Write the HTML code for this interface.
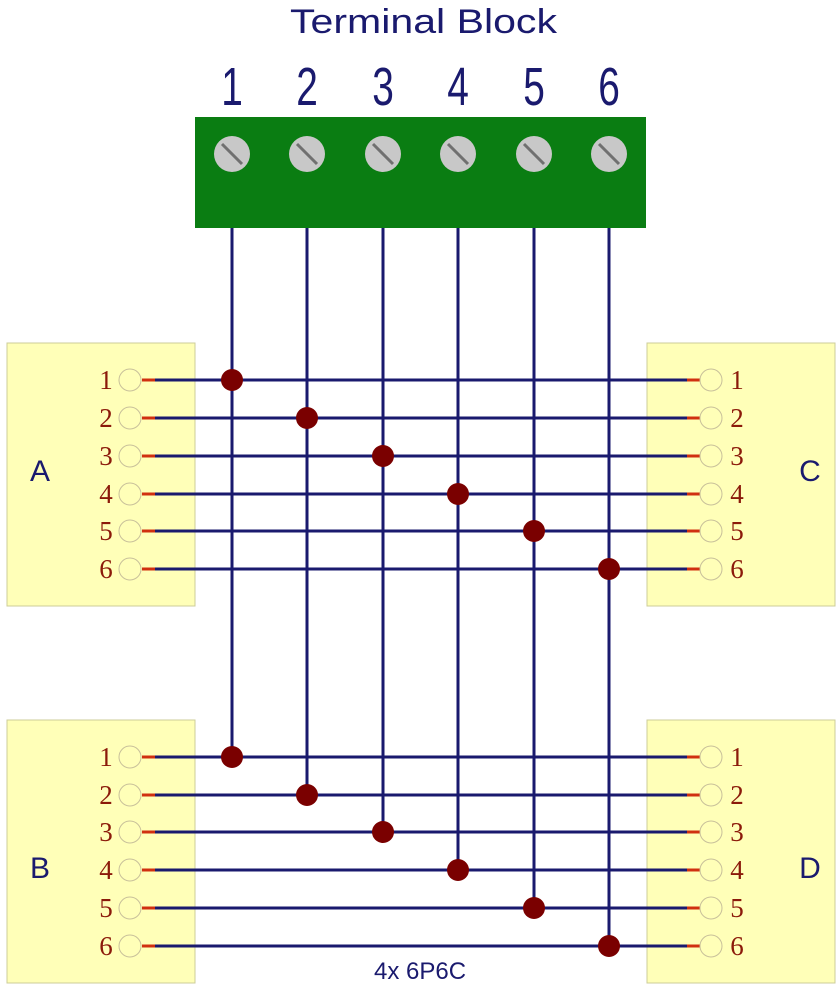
<!DOCTYPE html>
<html><head><meta charset="utf-8"><style>html,body{margin:0;padding:0;background:#fff}svg{display:block}</style></head>
<body>
<svg width="839" height="1000" viewBox="0 0 839 1000" xmlns="http://www.w3.org/2000/svg" font-family="Liberation Sans, sans-serif">
<text x="290" y="33" font-size="34" fill="#1a1a6e" textLength="267" lengthAdjust="spacingAndGlyphs">Terminal Block</text>
<g font-size="54" fill="#1a1a6e" text-anchor="middle">
<text transform="translate(232,105) scale(0.72,1)">1</text>
<text transform="translate(307,105) scale(0.72,1)">2</text>
<text transform="translate(383,105) scale(0.72,1)">3</text>
<text transform="translate(458,105) scale(0.72,1)">4</text>
<text transform="translate(534,105) scale(0.72,1)">5</text>
<text transform="translate(609,105) scale(0.72,1)">6</text>
</g>
<rect x="195" y="117" width="451" height="111" fill="#0a7d12"/>
<g fill="#c8c8c8">
<circle cx="232" cy="154" r="18"/><circle cx="307" cy="154" r="18"/><circle cx="383" cy="154" r="18"/>
<circle cx="458" cy="154" r="18"/><circle cx="534" cy="154" r="18"/><circle cx="609" cy="154" r="18"/>
</g>
<g stroke="#707070" stroke-width="3">
<line x1="222" y1="144" x2="242" y2="164"/><line x1="297" y1="144" x2="317" y2="164"/><line x1="373" y1="144" x2="393" y2="164"/>
<line x1="448" y1="144" x2="468" y2="164"/><line x1="524" y1="144" x2="544" y2="164"/><line x1="599" y1="144" x2="619" y2="164"/>
</g>
<g fill="#ffffb8" stroke="#cccc99" stroke-width="1">
<rect x="7" y="343" width="188" height="263"/><rect x="647" y="343" width="188" height="263"/>
<rect x="7" y="720" width="188" height="263"/><rect x="647" y="720" width="188" height="263"/>
</g>
<g font-size="30" fill="#1a1a6e" text-anchor="middle">
<text x="40" y="481">A</text><text x="810" y="481">C</text>
<text x="40" y="878">B</text><text x="810" y="878">D</text>
</g>
<text x="420" y="979" font-size="24" fill="#1a1a6e" text-anchor="middle">4x 6P6C</text>
<g stroke="#1a1a6e" stroke-width="3">
<line x1="155" y1="380" x2="687" y2="380"/><line x1="155" y1="418" x2="687" y2="418"/><line x1="155" y1="456" x2="687" y2="456"/>
<line x1="155" y1="494" x2="687" y2="494"/><line x1="155" y1="531" x2="687" y2="531"/><line x1="155" y1="569" x2="687" y2="569"/>
<line x1="155" y1="757" x2="687" y2="757"/><line x1="155" y1="795" x2="687" y2="795"/><line x1="155" y1="832" x2="687" y2="832"/>
<line x1="155" y1="870" x2="687" y2="870"/><line x1="155" y1="908" x2="687" y2="908"/><line x1="155" y1="946" x2="687" y2="946"/>
<line x1="232" y1="228" x2="232" y2="757"/><line x1="307" y1="228" x2="307" y2="795"/><line x1="383" y1="228" x2="383" y2="832"/>
<line x1="458" y1="228" x2="458" y2="870"/><line x1="534" y1="228" x2="534" y2="908"/><line x1="609" y1="228" x2="609" y2="946"/>
</g>
<g stroke="#d03010" stroke-width="3">
<path d="M142 380h13M142 418h13M142 456h13M142 494h13M142 531h13M142 569h13M142 757h13M142 795h13M142 832h13M142 870h13M142 908h13M142 946h13"/>
<path d="M687 380h13M687 418h13M687 456h13M687 494h13M687 531h13M687 569h13M687 757h13M687 795h13M687 832h13M687 870h13M687 908h13M687 946h13"/>
</g>
<g fill="none" stroke="#c8c09a" stroke-width="1">
<circle cx="130" cy="380" r="11"/><circle cx="130" cy="418" r="11"/><circle cx="130" cy="456" r="11"/><circle cx="130" cy="494" r="11"/><circle cx="130" cy="531" r="11"/><circle cx="130" cy="569" r="11"/>
<circle cx="130" cy="757" r="11"/><circle cx="130" cy="795" r="11"/><circle cx="130" cy="832" r="11"/><circle cx="130" cy="870" r="11"/><circle cx="130" cy="908" r="11"/><circle cx="130" cy="946" r="11"/>
<circle cx="711" cy="380" r="11"/><circle cx="711" cy="418" r="11"/><circle cx="711" cy="456" r="11"/><circle cx="711" cy="494" r="11"/><circle cx="711" cy="531" r="11"/><circle cx="711" cy="569" r="11"/>
<circle cx="711" cy="757" r="11"/><circle cx="711" cy="795" r="11"/><circle cx="711" cy="832" r="11"/><circle cx="711" cy="870" r="11"/><circle cx="711" cy="908" r="11"/><circle cx="711" cy="946" r="11"/>
</g>
<g fill="#7a0000">
<circle cx="232" cy="380" r="11"/><circle cx="307" cy="418" r="11"/><circle cx="383" cy="456" r="11"/><circle cx="458" cy="494" r="11"/><circle cx="534" cy="531" r="11"/><circle cx="609" cy="569" r="11"/>
<circle cx="232" cy="757" r="11"/><circle cx="307" cy="795" r="11"/><circle cx="383" cy="832" r="11"/><circle cx="458" cy="870" r="11"/><circle cx="534" cy="908" r="11"/><circle cx="609" cy="946" r="11"/>
</g>
<g font-family="Liberation Serif, serif" font-size="27" fill="#8b1a0a" text-anchor="middle">
<text x="106" y="389">1</text><text x="106" y="427">2</text><text x="106" y="465">3</text><text x="106" y="503">4</text><text x="106" y="540">5</text><text x="106" y="578">6</text>
<text x="106" y="766">1</text><text x="106" y="804">2</text><text x="106" y="841">3</text><text x="106" y="879">4</text><text x="106" y="917">5</text><text x="106" y="955">6</text>
<text x="737" y="389">1</text><text x="737" y="427">2</text><text x="737" y="465">3</text><text x="737" y="503">4</text><text x="737" y="540">5</text><text x="737" y="578">6</text>
<text x="737" y="766">1</text><text x="737" y="804">2</text><text x="737" y="841">3</text><text x="737" y="879">4</text><text x="737" y="917">5</text><text x="737" y="955">6</text>
</g>
</svg>
</body></html>
